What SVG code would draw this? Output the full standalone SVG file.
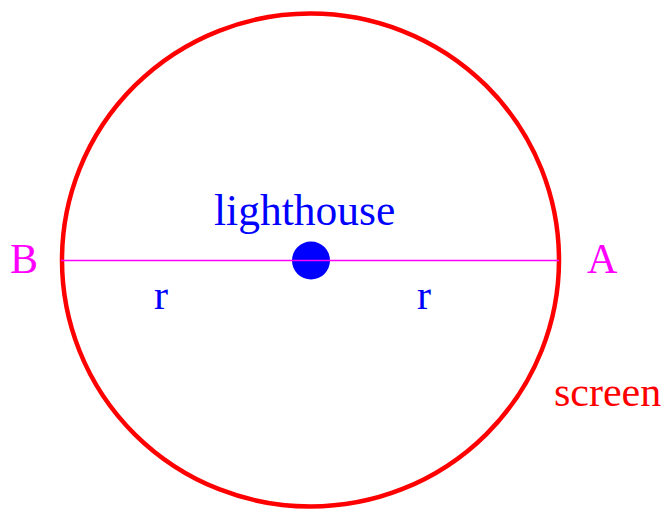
<svg xmlns="http://www.w3.org/2000/svg" width="665" height="510" viewBox="0 0 665 510">
<style>
text { font-family: "Liberation Serif", "Times New Roman", serif; font-size: 42px; }
.mag { fill: #ff00ff; }
.blue { fill: #0000ff; }
.red { fill: #ff0000; }
</style>
<rect width="665" height="510" fill="#ffffff"/>
<g id="screen">
<ellipse cx="310.5" cy="260" rx="248.5" ry="246.5" fill="none" stroke="#ff0000" stroke-width="4.5"/>
<text class="red" x="554" y="405.5">screen</text>
</g>
<g id="connectors">
<line x1="61" y1="260.5" x2="559" y2="260.5" stroke="#ff00ff" stroke-width="1.5"/>
</g>
<g id="lighthouse">
<circle cx="311" cy="260.5" r="19" fill="#0000ff"/>
<line x1="292" y1="260.5" x2="330" y2="260.5" stroke="#ff00ff" stroke-width="1.5"/>
<text class="blue" x="214" y="225" style="font-size:43.5px">lighthouse</text>
</g>
<g id="B"><text class="mag" x="10" y="272.5">B</text></g>
<g id="A"><text class="mag" x="587" y="272.5">A</text></g>
<g id="r1"><text class="blue" x="154" y="308.5">r</text></g>
<g id="r2"><text class="blue" x="417" y="308.5">r</text></g>
</svg>
